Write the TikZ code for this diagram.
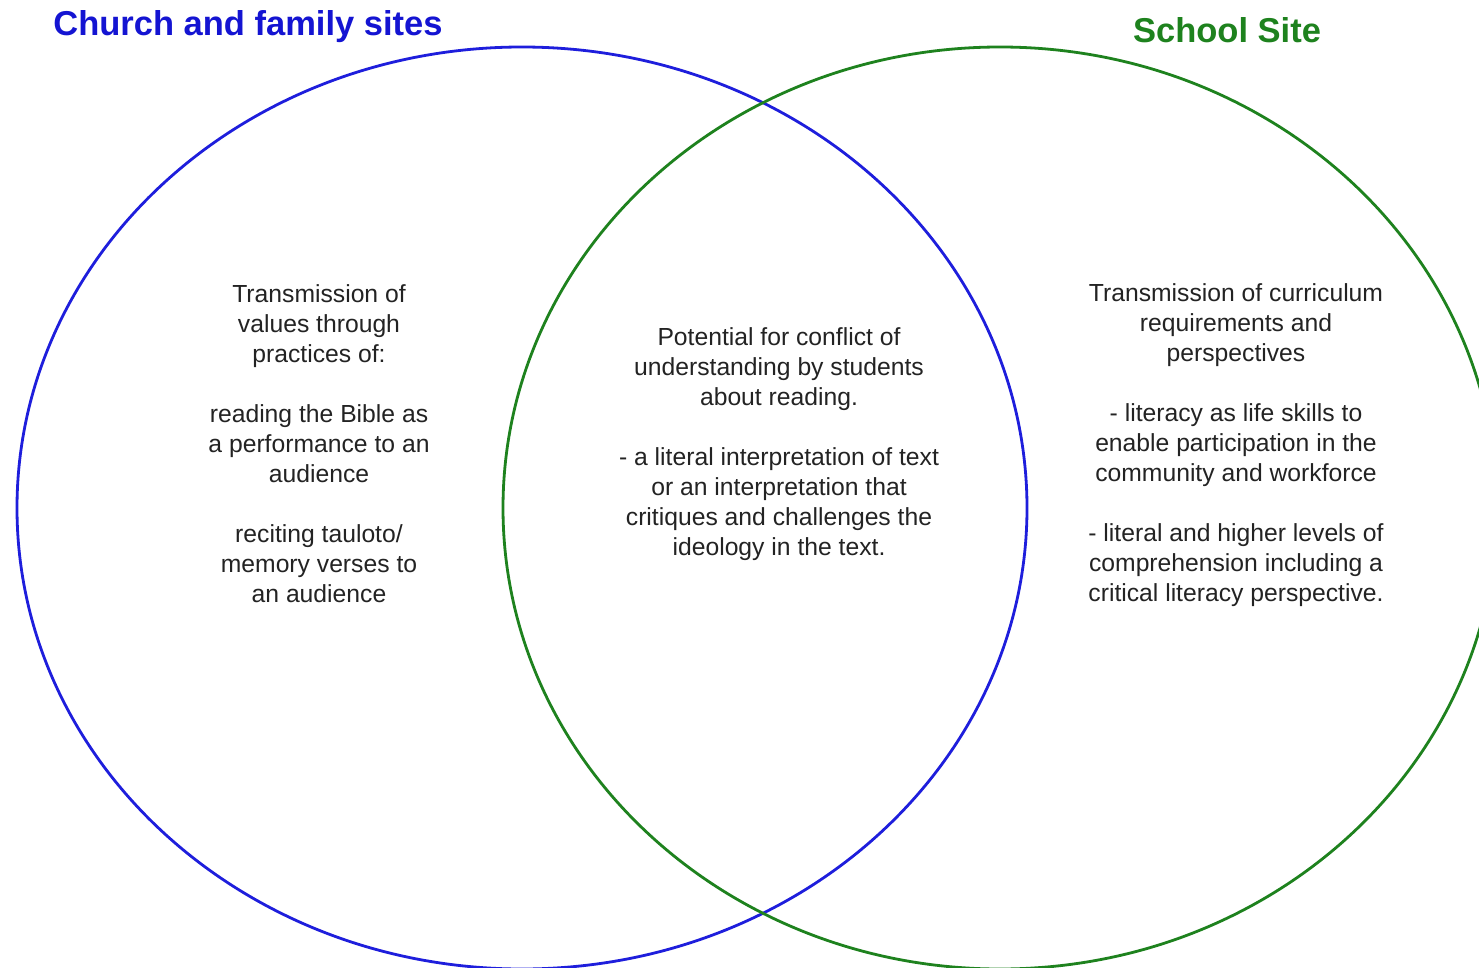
\documentclass[tikz,border=0pt]{standalone}
\usepackage{fontspec}
\setmainfont{Liberation Sans}
\definecolor{vblue}{RGB}{30,30,220}
\definecolor{vgreen}{RGB}{30,130,30}
\definecolor{ttitleblue}{RGB}{20,20,210}
\definecolor{tgray}{RGB}{35,35,35}
\tikzset{
  ring/.style={line width=2.8pt},
  body/.style={text=tgray, align=center, inner sep=0pt, font=\fontsize{24.7}{30}\selectfont},
  heading/.style={inner sep=0pt, font=\fontsize{34.5}{40}\selectfont\bfseries}
}
\begin{document}
\begin{tikzpicture}[x=1pt,y=1pt]
\useasboundingbox (0,0) rectangle (1479,-968);
\clip (0,0) rectangle (1479,-968);
\fill[white] (0,0) rectangle (1479,-968);
\draw[ring, vblue] (522,-508) ellipse [x radius=505, y radius=461];
\draw[ring, vgreen] (1000,-508) ellipse [x radius=497, y radius=461];
\node[heading, text=ttitleblue] (church) at (248,-27) {Church and family sites};
\node[heading, text=vgreen] (school) at (1227,-30) {School Site};
\node[body] (left) at (319,-444) {Transmission of\\values through\\practices of:\\[30pt]reading the Bible as\\a performance to an\\audience\\[30pt]reciting tauloto/\\memory verses to\\an audience};
\node[body] (mid) at (779,-444) {Potential for conflict of\\understanding by students\\about reading.\\[30pt]- a literal interpretation of text\\or an interpretation that\\critiques and challenges the\\ideology in the text.};
\node[body] (right) at (1236,-445) {Transmission of curriculum\\requirements and\\perspectives\\[30pt]- literacy as life skills to\\enable participation in the\\community and workforce\\[30pt]- literal and higher levels of\\comprehension including a\\critical literacy perspective.};
\end{tikzpicture}
\end{document}
